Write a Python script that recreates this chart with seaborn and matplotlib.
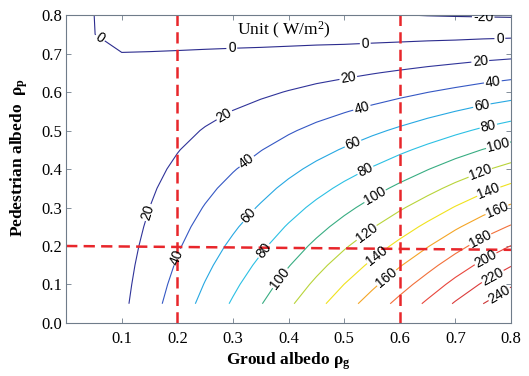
import numpy as np
import seaborn as sns
import matplotlib
matplotlib.use("Agg")
import matplotlib.pyplot as plt

# field, W/m2 ; rows = pedestrian albedo, columns = ground albedo
ground_albedo = [0.05, 0.10, 0.15, 0.20, 0.25, 0.30, 0.35, 0.40,
                 0.45, 0.50, 0.55, 0.60, 0.65, 0.70, 0.75, 0.80]
pedestrian_albedo = [0.05, 0.10, 0.15, 0.20, 0.25, 0.30, 0.35, 0.40,
                     0.45, 0.50, 0.55, 0.60, 0.65, 0.70, 0.75, 0.80]
flux = [
    [2.00, 15.7, 32.3, 49.2, 65.9, 82.3, 99.0, 116.5, 134.0, 151.4, 168.6, 186.0, 203.7, 222.2, 240.0, 256.0],
    [1.86, 14.5, 29.8, 45.5, 60.9, 76.1, 91.6, 107.8, 124.0, 140.2, 156.2, 172.3, 188.8, 206.0, 222.6, 237.5],
    [1.72, 13.3, 27.4, 41.7, 55.9, 69.9, 84.1, 99.1, 114.1, 128.9, 143.7, 158.7, 173.9, 189.8, 205.1, 218.9],
    [1.58, 12.1, 24.9, 38.0, 51.0, 63.7, 76.7, 90.4, 104.1, 117.7, 131.2, 145.0, 159.0, 173.5, 187.7, 200.4],
    [1.44, 10.9, 22.4, 34.2, 46.0, 57.5, 69.3, 81.7, 94.1, 106.5, 118.8, 131.3, 144.1, 157.3, 170.2, 181.8],
    [1.30, 9.7, 20.0, 30.5, 41.0, 51.3, 61.8, 73.0, 84.2, 95.2, 106.3, 117.6, 129.1, 141.1, 152.8, 163.3],
    [1.16, 8.5, 17.5, 26.8, 36.0, 45.1, 54.4, 64.3, 74.2, 84.0, 93.9, 103.9, 114.2, 124.9, 135.4, 144.7],
    [1.02, 7.3, 15.0, 23.0, 31.0, 38.9, 47.0, 55.6, 64.2, 72.8, 81.4, 90.3, 99.3, 108.7, 117.9, 126.1],
    [0.88, 6.1, 12.6, 19.3, 26.0, 32.7, 39.5, 46.8, 54.2, 61.5, 69.0, 76.6, 84.4, 92.5, 100.5, 107.6],
    [0.74, 4.9, 10.1, 15.6, 21.0, 26.5, 32.1, 38.1, 44.3, 50.3, 56.5, 62.9, 69.5, 76.2, 83.0, 89.0],
    [0.60, 3.7, 7.6, 11.8, 16.1, 20.3, 24.7, 29.4, 34.3, 39.1, 44.1, 49.2, 54.6, 60.0, 65.6, 70.5],
    [0.46, 2.5, 5.2, 8.1, 11.1, 14.1, 17.2, 20.7, 24.3, 27.9, 31.6, 35.6, 39.7, 43.8, 48.1, 51.9],
    [0.32, 1.3, 2.7, 4.3, 6.1, 7.9, 9.8, 12.0, 14.4, 16.6, 19.2, 21.9, 24.8, 27.6, 30.7, 33.4],
    [0.18, 0.07, 0.24, 0.59, 1.1, 1.7, 2.4, 3.3, 4.4, 5.4, 6.7, 8.2, 9.8, 11.4, 13.3, 14.8],
    [0.05, -1.13, -2.2, -3.2, -3.9, -4.5, -5.1, -5.4, -5.6, -5.9, -5.7, -5.5, -5.1, -4.9, -4.2, -3.7],
    [0.02, -2.3, -4.7, -6.9, -8.9, -10.7, -12.5, -14.1, -15.6, -17.5, -18.8, -19.7, -20.6, -21.2, -21.7, -22.2],
]
levels = [-20, 0, 20, 40, 60, 80, 100, 120, 140, 160, 180, 200, 220, 240]

# red reference lines
ground_marks = [0.2, 0.6]
ped_mark = [0.2, 0.19]

level_colors = ['#24247e', '#2c2c8e', '#30349a', '#3558c4', '#27a8e2', '#2cc0e4',
                '#38ad82', '#b8d43a', '#f0e21e', '#f4a526', '#f2703a', '#e9463c',
                '#db3b3b', '#cc3434']

# where the contour labels sit
label_spots = [(0.061, 0.740), (0.298, 0.710), (0.538, 0.724), (0.78, 0.736),
               (0.75, 0.795),
               (0.152, 0.285), (0.286, 0.536), (0.508, 0.631), (0.745, 0.675),
               (0.202, 0.170), (0.325, 0.419), (0.532, 0.558), (0.768, 0.618),
               (0.331, 0.276), (0.517, 0.462), (0.748, 0.562),
               (0.358, 0.185), (0.538, 0.397), (0.76, 0.506),
               (0.385, 0.116), (0.556, 0.328), (0.778, 0.454),
               (0.541, 0.233), (0.745, 0.389),
               (0.560, 0.172), (0.76, 0.341),
               (0.577, 0.116), (0.775, 0.293),
               (0.745, 0.216), (0.757, 0.159), (0.769, 0.116), (0.778, 0.077)]

sns.set_style('ticks')
plt.rcParams['font.family'] = ['Liberation Serif', 'DejaVu Serif']
plt.rcParams['mathtext.fontset'] = 'custom'
plt.rcParams['mathtext.rm'] = 'Liberation Serif'
plt.rcParams['mathtext.it'] = 'Liberation Serif:italic'
plt.rcParams['mathtext.bf'] = 'Liberation Serif:bold'
plt.rcParams['text.color'] = 'black'
plt.rcParams['axes.labelcolor'] = 'black'

fig = plt.figure(figsize=(5.29, 3.76), dpi=100)
ax = fig.add_axes([0.125, 0.141, 0.841, 0.819])
ax.set_xlim(0, 0.8)
ax.set_ylim(0, 0.8)

cs = ax.contour(ground_albedo, pedestrian_albedo, np.array(flux), levels=levels,
                colors=level_colors, linewidths=0.8)
labels = ax.clabel(cs, levels, fmt='%d', fontsize=10, inline=True, inline_spacing=2,
                   manual=label_spots)
for t in labels:
    t.set_fontfamily(['Liberation Sans', 'DejaVu Sans'])
    t.set_color('black')

red = '#e8262b'
for gx in ground_marks:
    sns.lineplot(x=[gx, gx], y=[0.0, 0.8], ax=ax, color=red, lw=1.8,
                 linestyle=(0, (4.5, 2.5)), estimator=None, sort=False)
sns.lineplot(x=[0.0, 0.8], y=ped_mark, ax=ax, color=red, lw=1.8,
             linestyle=(0, (4.5, 2.5)), estimator=None, sort=False)

ax.text(0.307, 0.748, 'Unit ( W/m$^{2}$)', fontsize=12.5)

ax.set_xlim(0, 0.8)
ax.set_ylim(0, 0.8)
ax.set_xticks([0.1, 0.2, 0.3, 0.4, 0.5, 0.6, 0.7, 0.8])
ax.set_yticks([0.0, 0.1, 0.2, 0.3, 0.4, 0.5, 0.6, 0.7, 0.8])
ax.set_xticklabels(['%.1f' % v for v in ax.get_xticks()])
ax.set_yticklabels(['%.1f' % v for v in ax.get_yticks()])
ax.tick_params(direction='in', length=3.5, width=0.6, color='#6f7c8a',
               labelcolor='black', top=True, right=True, labelsize=12)
ax.tick_params(axis='x', pad=6)
ax.tick_params(axis='y', pad=3)
for s in ax.spines.values():
    s.set_visible(True)
    s.set_color('#6f7c8a')
    s.set_linewidth(0.8)

ax.set_xlabel('Groud albedo ρ$_{\\mathbf{g}}$', fontsize=12.5, fontweight='bold', labelpad=2)
ax.set_ylabel('Pedestrian albedo  ρ$_{\\mathbf{p}}$', fontsize=12.5, fontweight='bold')
ax.yaxis.set_label_coords(-0.082, 0.536)

fig.savefig('out.png', dpi=100)
